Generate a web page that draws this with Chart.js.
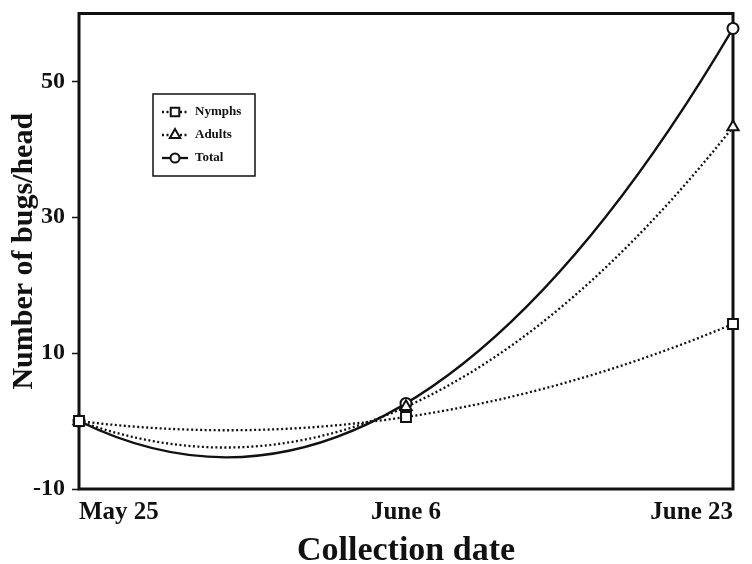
<!DOCTYPE html>
<html><head><meta charset="utf-8">
<script src="https://cdn.jsdelivr.net/npm/chart.js@4/dist/chart.umd.min.js"></script>
<style>html,body{margin:0;padding:0;background:#fff}#wrap{width:752px;height:564px}</style>
</head><body><div id="wrap"><canvas id="c" width="752" height="564"></canvas></div>
<script>
const dates = ['May 25', 'June 6', 'June 23'];
const nymphs = [0, 0.6, 14.3];
const adults = [0, 2.1, 43.3];
const total = [0, 2.6, 57.8];
const yTicks = [-10, 10, 30, 50];
const seriesNames = ['Nymphs', 'Adults', 'Total'];

const SERIF = '"Liberation Serif", "Times New Roman", serif';

// Draw the fitted quadratic through each series' three points (exact quadratic Bezier).
const curvePlugin = {
  id: 'curves',
  beforeDatasetsDraw(chart) {
    const {ctx, chartArea, scales: {x, y}} = chart;
    ctx.save();
    ctx.strokeStyle = '#111';
    ctx.lineWidth = 3;
    ctx.strokeRect(chartArea.left, chartArea.top, chartArea.right - chartArea.left, chartArea.bottom - chartArea.top);
    ctx.beginPath();
    ctx.rect(chartArea.left, chartArea.top - 2, chartArea.right - chartArea.left, chartArea.bottom - chartArea.top + 4);
    ctx.clip();
    chart.data.datasets.forEach(ds => {
      const d = ds.data;
      const yc = 2 * d[1] - (d[0] + d[2]) / 2;
      ctx.beginPath();
      ctx.setLineDash(ds.curveDash);
      ctx.lineWidth = ds.curveWidth;
      ctx.strokeStyle = '#111';
      ctx.moveTo(x.getPixelForValue(0), y.getPixelForValue(d[0]));
      ctx.quadraticCurveTo(x.getPixelForValue(1), y.getPixelForValue(yc),
                           x.getPixelForValue(2), y.getPixelForValue(d[2]));
      ctx.stroke();
    });
    ctx.restore();
  }
};

const legendPlugin = {
  id: 'boxLegend',
  afterDraw(chart) {
    const {ctx} = chart;
    const bx = 153, by = 94, bw = 102, bh = 82;
    const rows = [112, 135, 158];
    ctx.save();
    ctx.strokeStyle = '#111';
    ctx.lineWidth = 1.5;
    ctx.strokeRect(bx, by, bw, bh);
    chart.data.datasets.forEach((ds, i) => {
      const yy = rows[i];
      ctx.beginPath();
      ctx.strokeStyle = '#111';
      ctx.setLineDash(ds.curveDash);
      ctx.lineWidth = ds.curveWidth;
      ctx.moveTo(162, yy); ctx.lineTo(188, yy);
      ctx.stroke();
      ctx.setLineDash([]);
      ctx.fillStyle = '#fff';
      ctx.lineWidth = 2;
      ctx.beginPath();
      const r = ds.legendRadius;
      if (ds.pointStyle === 'circle') { ctx.arc(175, yy, r, 0, Math.PI * 2); }
      else if (ds.pointStyle === 'rect') { const s = r * Math.SQRT1_2; ctx.rect(175 - s, yy - s, 2 * s, 2 * s); }
      else { ctx.moveTo(175, yy - r); ctx.lineTo(175 + r * 0.866, yy + r * 0.5); ctx.lineTo(175 - r * 0.866, yy + r * 0.5); ctx.closePath(); }
      ctx.fill(); ctx.stroke();
      ctx.fillStyle = '#111';
      ctx.font = 'bold 13px ' + SERIF;
      ctx.textAlign = 'left';
      ctx.textBaseline = 'middle';
      ctx.fillText(ds.label, 195, yy);
    });
    ctx.restore();
  }
};

function makeDs(label, data, style, radius, legendRadius, dash, width) {
  return {
    label, data,
    showLine: false,
    pointStyle: style,
    pointRadius: radius,
    pointHoverRadius: radius,
    pointBackgroundColor: '#fff',
    pointBorderColor: '#111',
    pointBorderWidth: 2,
    borderColor: '#111',
    clip: false,
    legendRadius,
    curveDash: dash,
    curveWidth: width
  };
}

new Chart(document.getElementById('c'), {
  type: 'line',
  data: {
    labels: dates,
    datasets: [
      makeDs(seriesNames[0], nymphs, 'rect', 7, 6, [2, 2.5], 2.3),
      makeDs(seriesNames[1], adults, 'triangle', 6.5, 6, [2, 2.5], 2.3),
      makeDs(seriesNames[2], total, 'circle', 5.5, 4.5, [], 2.3)
    ]
  },
  options: {
    responsive: false,
    animation: false,
    events: [],
    layout: {padding: {top: 13.5, right: 19, left: 0, bottom: 0}},
    plugins: {legend: {display: false}, tooltip: {enabled: false}},
    scales: {
      x: {
        type: 'category',
        offset: false,
        grid: {display: false, drawTicks: false},
        border: {display: false},
        ticks: {
          align: 'inner',
          padding: 9,
          color: '#111',
          maxRotation: 0,
          autoSkip: false,
          font: {family: SERIF, size: 25, weight: 'bold'}
        },
        title: {
          display: true,
          text: 'Collection date',
          color: '#111',
          padding: {top: 0, bottom: 0},
          font: {family: SERIF, size: 34, weight: 'bold', lineHeight: 0.75}
        },
        afterFit(s) { s.height = 75; s.paddingLeft = 0; s.paddingRight = 0; }
      },
      y: {
        min: -10,
        max: 60,
        afterBuildTicks(s) { s.ticks = yTicks.map(v => ({value: v})); },
        grid: {display: true, drawOnChartArea: false, drawTicks: true, tickLength: 7, tickWidth: 1.5, tickColor: '#111', color: '#111'},
        border: {display: false},
        ticks: {
          padding: 7,
          color: '#111',
          font: {family: SERIF, size: 24, weight: 'bold'}
        },
        title: {
          display: true,
          text: 'Number of bugs/head',
          color: '#111',
          padding: {top: 6, bottom: 0},
          font: {family: SERIF, size: 30, weight: 'bold', lineHeight: 1.2}
        },
        afterFit(s) { s.width = 79; s.paddingTop = 0; s.paddingBottom = 0; }
      }
    }
  },
  plugins: [curvePlugin, legendPlugin]
});
</script>
</body></html>
